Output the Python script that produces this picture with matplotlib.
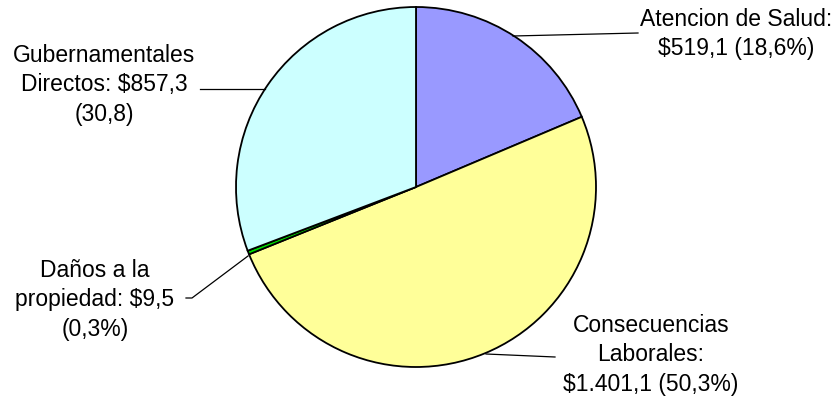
import matplotlib.pyplot as plt

plt.rcParams['font.family'] = ['Liberation Sans', 'DejaVu Sans']

categories = ['Atencion de Salud', 'Consecuencias Laborales', 'Daños a la propiedad', 'Gubernamentales Directos']
values = [519.1, 1401.1, 9.5, 857.3]
colors = ['#9999FF', '#FFFF99', '#00DD00', '#CCFFFF']
labels = ['Atencion de Salud:\n$519,1 (18,6%)',
          'Consecuencias\nLaborales:\n$1.401,1 (50,3%)',
          'Daños a la\npropiedad: $9,5\n(0,3%)',
          'Gubernamentales\nDirectos: $857,3\n(30,8)']

W, H = 838, 402
fig = plt.figure(figsize=(W / 100, H / 100), dpi=100)
ax = fig.add_axes([0, 0, 1, 1])

def fy(y):
    # pixel row (top-down) -> axis y
    return H - y

cx, cy, r = 416, 188, 180
ax.pie(values, colors=colors, startangle=90, counterclock=False,
       center=(cx, fy(cy)), radius=r, frame=True,
       wedgeprops=dict(edgecolor='black', linewidth=1.3))
ax.set_xlim(0, W)
ax.set_ylim(0, H)
ax.set_aspect('equal')
ax.axis('off')

# label text positions (center) and leader lines
text_pos = [(736, 34), (651, 355), (95, 300), (104, 85)]
leaders = [
    [(513, 37), (638, 34)],
    [(486, 355), (555, 358)],
    [(248, 257), (192, 299), (186, 299)],
    [(265, 90), (200, 90)],
]
for lab, (tx, ty) in zip(labels, text_pos):
    ax.text(tx, fy(ty), lab, ha='center', va='center', fontsize=16.5,
            linespacing=1.38, color='black')
for pts in leaders:
    ax.plot([p[0] for p in pts], [fy(p[1]) for p in pts], color='black', lw=0.9)

fig.savefig('out.png', dpi=100)
